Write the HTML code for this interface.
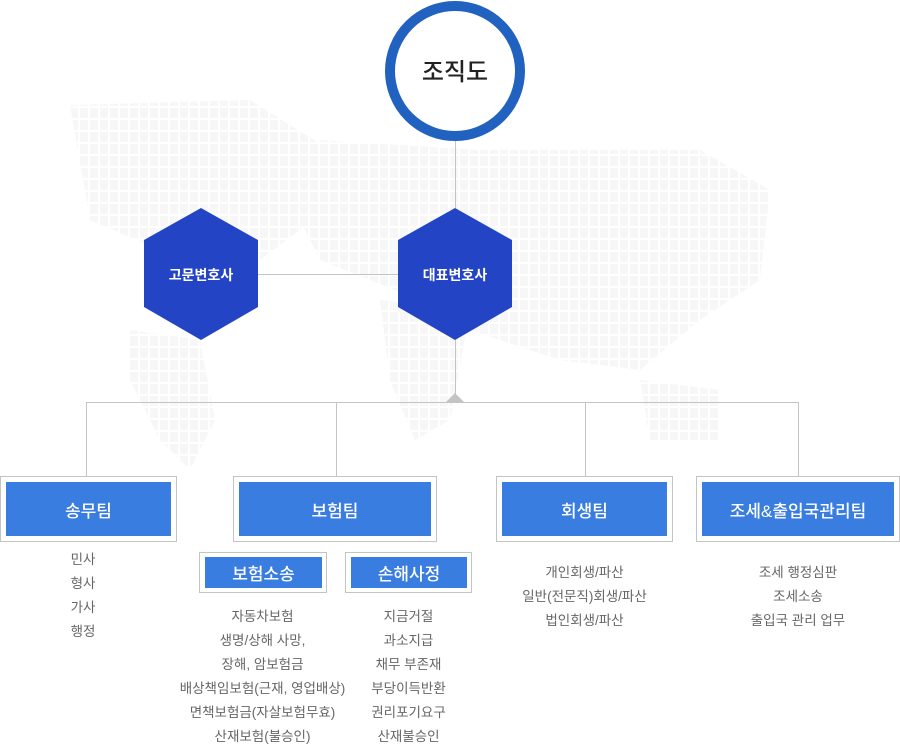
<!DOCTYPE html>
<html><head><meta charset="utf-8"><style>
body{margin:0;width:900px;height:744px;background:#fff;position:relative;overflow:hidden;font-family:"Liberation Sans","Noto Sans CJK KR",sans-serif}
.a{position:absolute}
.box{position:absolute;border:1px solid #c4c4c4;background:#fff;box-sizing:border-box}
.box div{position:absolute;left:5px;right:5px;top:5px;bottom:5px;background:#3a7de0;color:#fff;display:flex;align-items:center;justify-content:center;font-size:17px;font-weight:500}
.sub div{left:5px;right:4px;top:4px;bottom:4px;font-size:17px}
.list{position:absolute;text-align:center;color:#666;font-size:13.5px;line-height:24px}
</style></head><body>
<svg class="a" style="left:0;top:0" width="900" height="744">
<defs><pattern id="g" width="10" height="12" patternUnits="userSpaceOnUse"><rect width="8" height="10" fill="#f7f7f7"/></pattern></defs>
<g fill="url(#g)">
<path d="M70 105 L250 100 L330 150 L300 230 L260 260 L200 300 L160 250 L90 220 Z"/>
<path d="M130 330 L200 340 L215 420 L190 470 L160 440 L130 380 Z"/>
<path d="M275 170 L320 140 L480 150 L700 150 L770 190 L760 280 L700 320 L640 370 L560 360 L470 330 L420 300 L320 260 Z"/>
<path d="M380 300 L470 310 L450 420 L415 440 L390 380 Z"/>
<path d="M640 380 L720 390 L720 440 L650 440 Z"/>
</g>
<g stroke="#c4c4c4" stroke-width="1" fill="none">
<line x1="455.5" y1="141" x2="455.5" y2="208"/>
<line x1="258" y1="274.5" x2="398" y2="274.5"/>
<line x1="455.5" y1="340" x2="455.5" y2="402"/>
<line x1="86" y1="402.5" x2="799" y2="402.5"/>
<line x1="86.5" y1="402" x2="86.5" y2="476"/>
<line x1="336.5" y1="402" x2="336.5" y2="476"/>
<line x1="585.5" y1="402" x2="585.5" y2="476"/>
<line x1="798.5" y1="402" x2="798.5" y2="476"/>
</g>
<polygon points="446,402 455,393 464,402" fill="#c4c4c4"/>
<circle cx="455" cy="71" r="65" fill="#fff" stroke="#2162c0" stroke-width="10"/>
<text x="455" y="80" text-anchor="middle" font-size="24" font-weight="500" fill="#222" font-family="Liberation Sans,Noto Sans CJK KR,sans-serif">조직도</text>
<polygon points="201,208 258,240 258,307 201,340 144,307 144,240" fill="#2344c4"/>
<polygon points="455,208 512,240 512,307 455,340 398,307 398,240" fill="#2344c4"/>
<text x="201" y="280" text-anchor="middle" font-size="14" font-weight="bold" fill="#fff" font-family="Liberation Sans,Noto Sans CJK KR,sans-serif">고문변호사</text>
<text x="455" y="280" text-anchor="middle" font-size="14" font-weight="bold" fill="#fff" font-family="Liberation Sans,Noto Sans CJK KR,sans-serif">대표변호사</text>
</svg>
<div class="box" style="left:0;top:476px;width:177px;height:66px"><div>송무팀</div></div>
<div class="box" style="left:233px;top:476px;width:204px;height:66px"><div>보험팀</div></div>
<div class="box" style="left:496px;top:476px;width:177px;height:66px"><div>회생팀</div></div>
<div class="box" style="left:696px;top:476px;width:204px;height:66px"><div>조세&amp;출입국관리팀</div></div>
<div class="box sub" style="left:199px;top:552px;width:128px;height:41px"><div>보험소송</div></div>
<div class="box sub" style="left:345px;top:552px;width:127px;height:41px"><div>손해사정</div></div>
<div class="list" style="left:0;width:166px;top:548px">민사<br>형사<br>가사<br>행정</div>
<div class="list" style="left:150px;width:225px;top:605px">자동차보험<br>생명/상해 사망,<br>장해, 암보험금<br>배상책임보험(근재, 영업배상)<br>면책보험금(자살보험무효)<br>산재보험(불승인)</div>
<div class="list" style="left:345px;width:127px;top:605px">지금거절<br>과소지급<br>채무 부존재<br>부당이득반환<br>권리포기요구<br>산재불승인</div>
<div class="list" style="left:496px;width:177px;top:561px">개인회생/파산<br>일반(전문직)회생/파산<br>법인회생/파산</div>
<div class="list" style="left:696px;width:204px;top:561px">조세 행정심판<br>조세소송<br>출입국 관리 업무</div>
</body></html>
